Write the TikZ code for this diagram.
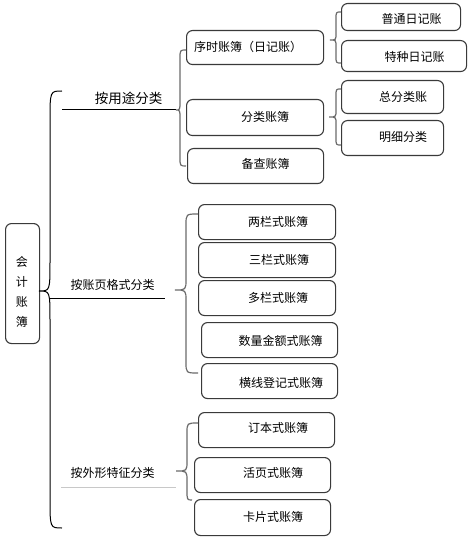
\documentclass[tikz,border=0pt]{standalone}
\usepackage{fontspec}
\setmainfont{Noto Sans CJK SC}
\definecolor{boxc}{HTML}{3A3A3A}
\definecolor{bracec}{HTML}{6A6A6A}
\definecolor{lightline}{HTML}{C8C8C8}
\newcommand\drawbrace[9]{%
  \draw[#1] (#2,#3) .. controls (#6,#3) and (#6,#3) .. (#6,#3+#9)
    -- (#6,#8-#9) .. controls (#6,#8) and (#6,#8) .. (#7,#8)
    .. controls (#6,#8) and (#6,#8) .. (#6,#8+#9)
    -- (#6,#5-#9) .. controls (#6,#5) and (#6,#5) .. (#4,#5);}
\begin{document}
\begin{tikzpicture}[x=1pt,y=-1pt,
  box/.style={draw=boxc, line width=1.1pt, rounded corners=6pt, anchor=north west, inner sep=0pt},
  txt/.style={font=\fontsize{12}{14}\selectfont, inner sep=0pt, text=black},
  bigtxt/.style={font=\fontsize{13.5}{15}\selectfont, inner sep=0pt, text=black},
  brace/.style={draw=bracec, line width=1.2pt},
  mainbrace/.style={draw=black, line width=1pt},
  uline/.style={draw=black, line width=1pt},
  lline/.style={draw=lightline, line width=1pt}]
\useasboundingbox (0,0) rectangle (470,537);

% root
\node[box, minimum width=34pt, minimum height=120pt] (root) at (5,223) {};
\node[txt, align=center, font=\fontsize{12}{20}\selectfont] (roott) at (22,292) {会\\计\\账\\簿};

% category labels
\node[bigtxt] (c1) at (128.5,98) {按用途分类};
\node[txt] (c2) at (112.5,285) {按账页格式分类};
\node[txt] (c3) at (112.5,473) {按外形特征分类};
\coordinate (c1a) at (62,110);  \coordinate (c1b) at (176,110);
\coordinate (c2a) at (50,298);  \coordinate (c2b) at (165,298);
\coordinate (c3a) at (61,487);  \coordinate (c3b) at (176,487);
\draw[uline] (c1a) -- (c1b);
\draw[uline] (c2a) -- (c2b);
\draw[lline] (c3a) -- (c3b);

% level 2 boxes (by use)
\node[box, minimum width=137pt, minimum height=34pt] (xushi) at (186,30) {};
\node[txt] at (248,47) {序时账簿（日记账）};
\node[box, minimum width=137pt, minimum height=36pt] (fenlei) at (186,99) {};
\node[txt] at (265,117) {分类账簿};
\node[box, minimum width=136pt, minimum height=35pt] (beicha) at (187,148) {};
\node[txt] at (265.5,164) {备查账簿};

% level 3 boxes
\node[box, minimum width=119pt, minimum height=27pt] (putong) at (341,3) {};
\node[txt] at (411.5,19) {普通日记账};
\node[box, minimum width=125pt, minimum height=31pt] (tezhong) at (341,40) {};
\node[txt] at (414.5,57) {特种日记账};
\node[box, minimum width=102pt, minimum height=33pt] (zong) at (341,80) {};
\node[txt] at (403,97) {总分类账};
\node[box, minimum width=102pt, minimum height=35pt] (mingxi) at (341,120) {};
\node[txt] at (403,137) {明细分类};

% level 2 boxes (by page format)
\node[box, minimum width=137pt, minimum height=35pt] (liang) at (198,204) {};
\node[txt] at (278,222) {两栏式账簿};
\node[box, minimum width=137pt, minimum height=35pt] (san) at (198,242) {};
\node[txt] at (279,260) {三栏式账簿};
\node[box, minimum width=137pt, minimum height=35pt] (duo) at (198,280) {};
\node[txt] at (278,298) {多栏式账簿};
\node[box, minimum width=136pt, minimum height=35pt] (shuliang) at (201,322) {};
\node[txt] at (280.5,341) {数量金额式账簿};
\node[box, minimum width=136pt, minimum height=35pt] (hengxian) at (201,363) {};
\node[txt] at (281,383) {横线登记式账簿};

% level 2 boxes (by appearance)
\node[box, minimum width=136pt, minimum height=35pt] (dingben) at (198,412) {};
\node[txt] at (278,428) {订本式账簿};
\node[box, minimum width=136pt, minimum height=35pt] (huoye) at (194,457) {};
\node[txt] at (273,473) {活页式账簿};
\node[box, minimum width=136pt, minimum height=36pt] (kapian) at (194,499) {};
\node[txt] at (273,517) {卡片式账簿};

% braces
\drawbrace{mainbrace}{62}{91}{62}{528}{50}{39}{291}{30}
\drawbrace{brace}{186}{50}{186}{166}{180}{176}{110}{9}
\drawbrace{brace}{198}{214}{198}{373}{186}{175}{290}{11}
\drawbrace{brace}{198}{423}{192}{500}{187}{176}{471}{10}
\drawbrace{brace}{341}{12}{341}{63}{336}{330}{40}{7}
\drawbrace{brace}{341}{89}{341}{145}{336}{329}{117}{7}
\end{tikzpicture}
\end{document}
